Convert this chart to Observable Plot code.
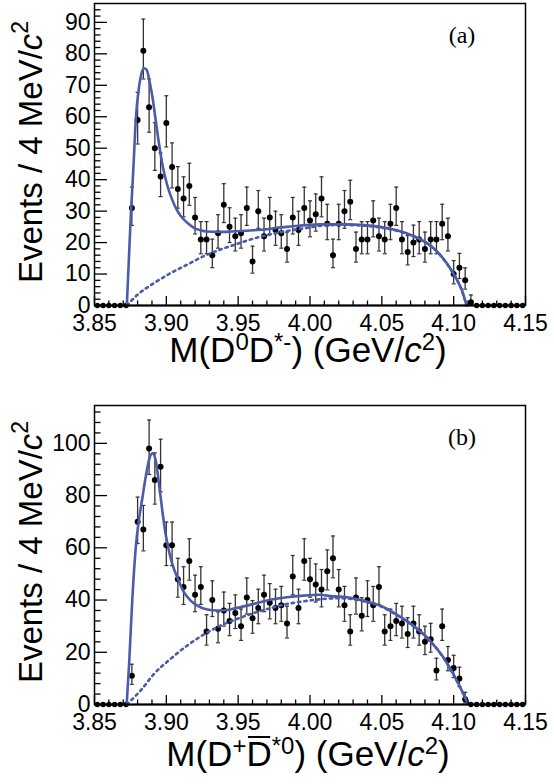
<!DOCTYPE html>
<html><head><meta charset="utf-8">
<script src="https://cdn.jsdelivr.net/npm/d3@7"></script>
<script src="https://cdn.jsdelivr.net/npm/@observablehq/plot@0.6"></script>
<style>
body{margin:0;background:#fff;}
#chart{width:554px;height:784px;}
#chart svg{display:block;}
</style></head><body><div id="chart"></div>
<script>
// ---- data ----
const binCenters = [3.852,3.856,3.860,3.864,3.868,3.872,3.876,3.880,3.884,3.888,
 3.892,3.896,3.900,3.904,3.908,3.912,3.916,3.920,3.924,3.928,
 3.932,3.936,3.940,3.944,3.948,3.952,3.956,3.960,3.964,3.968,
 3.972,3.976,3.980,3.984,3.988,3.992,3.996,4.000,4.004,4.008,
 4.012,4.016,4.020,4.024,4.028,4.032,4.036,4.040,4.044,4.048,
 4.052,4.056,4.060,4.064,4.068,4.072,4.076,4.080,4.084,4.088,
 4.092,4.096,4.100,4.104,4.108,4.112,4.116,4.120,4.124,4.128,
 4.132,4.136,4.140,4.144,4.148];
const countsA = [0,0,0,0,0,0,
 31,59,81,63,50,41,58,44,37,34,
 38,28,21,21,16,23,32,25,22,23,
 31,14,30,22,28,24,23,18,28,24,
 31,27,29,34,26,16,26,30,33,18,
 21,21,27,22,21,26,31,21,17,20,
 21,18,21,21,26,22,10,12,8,
 1,0,0,0,0,0,0,0,0,0];
const countsB = [0,0,0,0,0,0,
 11,70,67,98,86,91,61,61,48,45,
 55,42,45,28,40,29,36,32,35,30,
 41,33,37,42,39,37,38,31,49,37,
 55,48,46,44,51,56,44,38,28,41,
 34,40,38,45,28,30,32,31,27,31,
 28,24,25,13,30,17,14,10,2,
 0,0,0,0,0,0,0,0,0,0];

const fitMassA = [3.8725,3.8752,3.8771,3.8787,3.8810,3.8826,3.8845,3.8863,3.8886,3.8905,3.8926,3.8949,3.8972,3.8995,3.9018,3.9042,3.9065,3.9099,3.9146,3.9192,3.9238,3.9285,3.9354,3.9447,3.9608,3.9840,4.0071,4.0257,4.0372,4.0488,4.0604,4.0719,4.0812,4.0882,4.0951,4.1009,4.1056,4.1090];
const fitA = [0,27.9,43.9,58.9,69.5,73.6,75.4,74.9,70.6,65.8,58.9,51.4,45.0,40.2,36.5,33.5,31.1,28.5,26.3,24.7,23.9,23.5,23.4,23.5,23.9,25.0,25.8,25.8,25.6,25.0,23.9,22.1,19.9,17.3,13.5,9.3,5.0,0];
const bkgMassA = [3.8725,3.8799,3.8914,3.9030,3.9146,3.9261,3.9377,3.9493,3.9608,3.9724,3.9840,3.9955,4.0071,4.0210,4.0372,4.0488,4.0604,4.0719,4.0812,4.0882,4.0951,4.1009,4.1056,4.1090];
const bkgA = [0,3.4,7.1,10.3,13.0,15.7,17.8,19.6,21.3,22.6,23.7,24.5,25.3,25.6,25.4,24.8,23.8,22.0,19.8,17.2,13.4,9.2,4.9,0];

const fitMassB = [3.8724,3.8741,3.8764,3.8787,3.8810,3.8833,3.8856,3.8879,3.8903,3.8926,3.8949,3.8972,3.8995,3.9018,3.9042,3.9076,3.9122,3.9169,3.9215,3.9285,3.9354,3.9424,3.9493,3.9608,3.9724,3.9840,3.9955,4.0071,4.0141,4.0257,4.0372,4.0488,4.0604,4.0719,4.0835,4.0928,4.0997,4.1056,4.1102];
const fitB = [0,15.6,41.1,60,71,79,87,93.5,96.2,93.5,84.5,74.2,65.3,58.9,53.8,48.7,43.0,39.8,37.9,36.4,36.0,36.2,37.0,38.5,40.1,41.1,41.7,42.0,41.5,41.1,39.8,37.9,34.4,30.2,24.5,18.1,11.7,5.4,0];
const bkgMassB = [3.8724,3.8822,3.8914,3.9030,3.9146,3.9261,3.9377,3.9493,3.9608,3.9724,3.9840,3.9955,4.0071,4.0188,4.0257,4.0372,4.0488,4.0604,4.0719,4.0835,4.0928,4.0997,4.1056,4.1102];
const bkgB = [0,5.4,11.7,17.5,22.6,26.8,30.2,32.8,35.0,36.9,38.5,39.5,40.3,40.7,40.6,39.5,37.7,34.2,30.0,24.4,18.0,11.6,5.3,0];

const xTickLabels = [3.85,3.90,3.95,4.00,4.05,4.10,4.15];
const yTicksA = [0,10,20,30,40,50,60,70,80,90];
const yTicksB = [0,20,40,60,80,100];

// ---- drawing ----
const W = 554, ML = 94, MR = 29;
const BLUE = "#4b5ba8";
const FONT = "'Liberation Sans', Arial, Helvetica, sans-serif";
const capSymbol = {draw(ctx, size){ const r = Math.sqrt(size/Math.PI); ctx.moveTo(-r,0); ctx.lineTo(r,0); }};

function panel({counts, fitM, fitV, bkgM, bkgV, yMax, yTicks, yMinorStep, mt, mb, height}) {
  const pts = binCenters.map((m,i)=>({m, n: counts[i]}));
  const nz = pts.filter(d=>d.n>0).map(d=>({m:d.m, n:d.n, lo: d.n - Math.sqrt(d.n - 0.25), hi: d.n + Math.sqrt(d.n + 0.75) + 1}));
  const fit = fitM.map((m,i)=>({m, v: fitV[i]}));
  const bkg = bkgM.map((m,i)=>({m, v: bkgV[i]}));
  const plotH = height - mt - mb, plotW = W - ML - MR;
  const xMinor = d3.range(3.86, 4.145, 0.01).filter(v => Math.abs(v*100 - Math.round(v*20)*5) > 0.1);
  const yMinor = d3.range(0, yMax, yMinorStep).filter(v => !yTicks.includes(Math.round(v)));
  return Plot.plot({
    width: W, height, marginLeft: ML, marginRight: MR, marginTop: mt, marginBottom: mb,
    x: {domain: [3.85, 4.15]}, y: {domain: [0, yMax]},
    style: {fontFamily: FONT, fontSize: "23px", color: "#000", background: "#fff"},
    marks: [
      Plot.ruleX(nz, {x:"m", y1:"lo", y2:"hi", stroke:"#333", strokeWidth:1.3}),
      Plot.dot(nz, {x:"m", y:"lo", symbol: capSymbol, r:2, stroke:"#333", strokeWidth:1.2}),
      Plot.dot(nz, {x:"m", y:"hi", symbol: capSymbol, r:2, stroke:"#333", strokeWidth:1.2}),
      Plot.dot(pts, {x:"m", y:"n", r: d => d.n > 0 ? 3.2 : 2.6, fill:"#000", stroke:null, clip:false}),
      Plot.line(bkg, {x:"m", y:"v", stroke: BLUE, strokeWidth: 2.6, strokeDasharray: "2.4,4", curve:"monotone-x"}),
      Plot.line(fit, {x:"m", y:"v", stroke: BLUE, strokeWidth: 2.6, curve:"monotone-x"}),
      Plot.tickX(xMinor, {x: d=>d, insetTop: plotH - 4.5, stroke:"#000", strokeWidth:1.3}),
      Plot.tickX(xTickLabels, {x: d=>d, insetTop: plotH - 9, stroke:"#000", strokeWidth:1.3}),
      Plot.tickY(yMinor, {y: d=>d, insetRight: plotW - 6.5, stroke:"#000", strokeWidth:1.3}),
      Plot.tickY(yTicks, {y: d=>d, insetRight: plotW - 13, stroke:"#000", strokeWidth:1.3}),
      Plot.axisX(xTickLabels, {tickSize: 0, tickPadding: 9, tickFormat: d3.format(".2f"), label: null, fontSize: 23}),
      Plot.axisY(yTicks, {tickSize: 0, tickPadding: 4, label: null, fontSize: 23}),
      Plot.ruleY([0], {stroke:"#000", strokeWidth: 2}),
      Plot.frame({stroke:"#000", strokeWidth: 1.5})
    ]
  });
}

function addYLabel(svg, cy) {
  const t = svg.append("text").attr("transform", `translate(42,${cy}) rotate(-90)`)
    .attr("text-anchor","middle").attr("font-family", FONT).attr("font-size", 33).attr("fill","#000");
  t.append("tspan").text("Events / 4 MeV/");
  t.append("tspan").attr("font-style","italic").text("c");
  t.append("tspan").attr("font-size", 23).attr("dy", -14).text("2");
}
function sup(t, s) { t.append("tspan").attr("font-size", 24).attr("dy", -12).text(s); }
function down(t) { return t.append("tspan").attr("dy", 12); }

function xLabel(s, y, parts) {
  const t = s.append("text").attr("x", 308).attr("y", y).attr("text-anchor","middle").attr("font-family", FONT).attr("font-size", 35).attr("fill","#000");
  parts(t);
  return t;
}

const root = d3.select("#chart");

// Panel (a)
const svgA = panel({counts: countsA, fitM: fitMassA, fitV: fitA, bkgM: bkgMassA, bkgV: bkgA, yMax: 96, yTicks: yTicksA, yMinorStep: 2, mt: 3, mb: 87, height: 392});
root.node().appendChild(svgA);
{
  const s = d3.select(svgA);
  addYLabel(s, 152);
  xLabel(s, 362, t => {
    t.append("tspan").text("M(D");
    sup(t, "0");
    down(t).text("D");
    sup(t, "*-");
    down(t).text(") (GeV/");
    t.append("tspan").attr("font-style","italic").text("c");
    sup(t, "2");
    down(t).text(")");
  });
  s.append("text").attr("x", 462).attr("y", 43).attr("text-anchor","middle").attr("font-family","'Liberation Serif', 'Times New Roman', serif").attr("font-size", 24).text("(a)");
}

// Panel (b)
const svgB = panel({counts: countsB, fitM: fitMassB, fitV: fitB, bkgM: bkgMassB, bkgV: bkgB, yMax: 114.5, yTicks: yTicksB, yMinorStep: 4, mt: 13, mb: 80, height: 392});
root.node().appendChild(svgB);
{
  const s = d3.select(svgB);
  addYLabel(s, 160);
  const baseY = 374;
  const lab = xLabel(s, baseY, t => {
    t.append("tspan").text("M(D");
    sup(t, "+");
    down(t).text("D");
    sup(t, "*0");
    down(t).text(") (GeV/");
    t.append("tspan").attr("font-style","italic").text("c");
    sup(t, "2");
    down(t).text(")");
  });
  // overline on the anti-D (character index 4 of the label)
  const ext = lab.node().getExtentOfChar(4);
  s.append("line").attr("x1", ext.x + 1.5).attr("x2", ext.x + ext.width - 1.5)
    .attr("y1", baseY - 29).attr("y2", baseY - 29).attr("stroke", "#000").attr("stroke-width", 2);
  s.append("text").attr("x", 462).attr("y", 53).attr("text-anchor","middle").attr("font-family","'Liberation Serif', 'Times New Roman', serif").attr("font-size", 24).text("(b)");
}
</script></body></html>
